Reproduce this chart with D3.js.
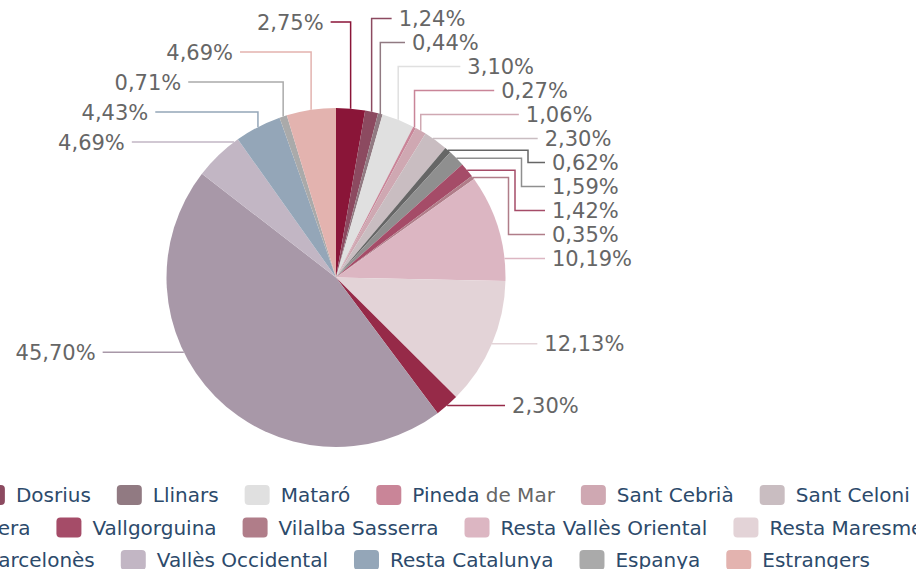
<!DOCTYPE html>
<html>
<head>
<meta charset="utf-8">
<script src="https://cdn.jsdelivr.net/npm/d3@7"></script>
<style>
  html, body { margin: 0; padding: 0; background: #fff; overflow: hidden; }
  svg { display: block; font-family: "DejaVu Sans", Verdana, sans-serif; }
</style>
</head>
<body>
<svg width="916" height="569"></svg>
<script>
// slices, clockwise from 12 o'clock
var categories = ["Arenys de Munt", "Dosrius", "Llinars", "Mataró", "Pineda de Mar",
    "Sant Cebrià", "Sant Celoni", "Sant Iscle", "Tordera", "Vallgorguina", "Vilalba Sasserra",
    "Resta Vallès Oriental", "Resta Maresme", "Osona", "Resta Barcelonès",
    "Vallès Occidental", "Resta Catalunya", "Espanya", "Estrangers"];
var shares = [2.75, 1.24, 0.44, 3.10, 0.27, 1.06, 2.30, 0.62, 1.59, 1.42, 0.35,
    10.19, 12.13, 2.30, 45.70, 4.69, 4.43, 0.71, 4.69];
var colors = ["#8a1538", "#8c4a60", "#917a82", "#e0e0e0", "#c98598", "#cfa8b2", "#c9bdc1",
    "#666666", "#8f8f8f", "#a54c68", "#b07d89", "#dcb6c2", "#e3d3d7", "#962a48",
    "#a898a8", "#c2b6c4", "#94a6b8", "#aaaaaa", "#e3b3af"];

var width = 916,
    height = 569,
    cx = 336, cy = 277.5, r = 169.5;

var svg = d3.select("svg");

var pie = d3.pie().sort(null).value(function (d) { return d; });
var arc = d3.arc().innerRadius(0).outerRadius(r);

var slices = pie(shares).map(function (d, i) {
    d.name = categories[i];
    d.color = colors[i];
    return d;
});

var g = svg.append("g").attr("transform", "translate(" + cx + "," + cy + ")");

g.selectAll("path.slice")
    .data(slices)
    .enter()
    .append("path")
    .attr("class", "slice")
    .attr("d", arc)
    .attr("fill", function (d) { return d.color; });

// ---- outside labels ----
var PI = Math.PI;
var gap = { right: 24, left: 30 };
var ringRho = { right: 182, left: 215 };

function arcPt(a) { return [r * Math.sin(a), -r * Math.cos(a)]; }

var labels = slices.map(function (d) {
    var mid = (d.startAngle + d.endAngle) / 2;
    return { d: d, mid: mid, side: mid < PI ? "right" : "left" };
});

// very top slice goes to the emptier side
var nRight = labels.filter(function (l) { return l.side == "right"; }).length;
labels.forEach(function (l) {
    if (l.side == "right" && l.mid < 0.12 && nRight > slices.length / 2) { l.side = "left"; nRight--; }
});

labels.forEach(function (l) {
    var s = l.d.startAngle, e = l.d.endAngle;
    var lo = l.side == "right" ? Math.max(s, 0) : Math.max(s, PI);
    var hi = l.side == "right" ? Math.min(e, PI) : Math.min(e, 2 * PI);
    l.anchor = hi > lo ? (lo + hi) / 2 : l.mid;
    var c = Math.cos(l.anchor);
    l.natural = c > 0 ? -ringRho[l.side] * c : -r * c;
    l.pt = arcPt(l.anchor);
});

// spread colliding labels around their mean
["left", "right"].forEach(function (side) {
    var G = gap[side];
    var list = labels.filter(function (l) { return l.side == side; })
        .sort(function (a, b) { return a.natural - b.natural; });
    var blocks = list.map(function (l) { return { items: [l], sum: l.natural }; });
    var merged = true;
    function top(b) { return b.sum / b.items.length - (b.items.length - 1) * G / 2; }
    while (merged) {
        merged = false;
        for (var i = 0; i < blocks.length - 1; i++) {
            var a = blocks[i], b = blocks[i + 1];
            if (top(a) + a.items.length * G > top(b)) {
                blocks.splice(i, 2, { items: a.items.concat(b.items), sum: a.sum + b.sum });
                merged = true;
                break;
            }
        }
    }
    blocks.forEach(function (b) {
        b.items.forEach(function (l, k) { l.y = top(b) + k * G; });
    });
});

// connector shape and end points
labels.forEach(function (l) {
    var sgn = l.side == "right" ? 1 : -1;
    var y = l.y;
    var s = l.d.startAngle, e = l.d.endAngle;
    if (Math.abs(y) <= r) {
        var t = Math.acos(-y / r);
        if (l.side == "left") t = 2 * PI - t;
        if (t >= s && t <= e) l.type = "straight";
    }
    if (!l.type) {
        l.type = (Math.sign(y) == Math.sign(l.pt[1]) && Math.abs(y) > Math.abs(l.pt[1])) ? "vertical" : "elbow";
    }
    var R = (y > 0 && l.side == "right") ? 212 : 245;
    var w = Math.sqrt(Math.max(R * R - y * y, 0));
    w = Math.min(w, l.side == "right" ? 209 : 250);
    var startX = l.type == "straight" ? sgn * Math.sqrt(r * r - y * y) : l.pt[0];
    var endX = sgn * w;
    if (sgn > 0) endX = Math.max(endX, startX + 20); else endX = Math.min(endX, startX - 20);
    l.startX = startX;
    l.endX = endX;
});

["left", "right"].forEach(function (side) {
    var sgn = side == "right" ? 1 : -1;
    labels.filter(function (l) { return l.side == side && l.type == "elbow"; })
        .sort(function (a, b) { return a.y - b.y; })
        .forEach(function (l, k) { l.elbowX = l.endX - sgn * (17 + 6.5 * k); });
});

function connector(l) {
    if (l.type == "straight") return [[l.startX, l.y], [l.endX, l.y]];
    if (l.type == "vertical") return [l.pt, [l.pt[0], l.y], [l.endX, l.y]];
    return [l.pt, [l.elbowX, l.pt[1]], [l.elbowX, l.y], [l.endX, l.y]];
}

var fmt = d3.format(".2f");

g.selectAll("path.conn")
    .data(labels)
    .enter()
    .append("path")
    .attr("class", "conn")
    .attr("d", function (l) { return d3.line()(connector(l)); })
    .attr("fill", "none")
    .attr("stroke", function (l) { return l.d.color; })
    .attr("stroke-width", 1.5);

g.selectAll("text.pct")
    .data(labels)
    .enter()
    .append("text")
    .attr("class", "pct")
    .attr("x", function (l) { return l.endX + (l.side == "right" ? 7 : -7); })
    .attr("y", function (l) { return l.y; })
    .attr("dy", "0.36em")
    .attr("text-anchor", function (l) { return l.side == "right" ? "start" : "end"; })
    .attr("font-size", "21px")
    .attr("fill", "#666")
    .text(function (l) { return fmt(l.d.data).replace(".", ",") + "%"; });

// ---- legend (wider than the chart, so its ends are clipped) ----
var legendLeft = -239,
    legendMaxWidth = 1260,
    rowTop = 495,
    rowStep = 32.5,
    symW = 25, symH = 20, symGap = 11, itemGap = 26;

var legend = svg.append("g").attr("class", "legend");
var items = legend.selectAll("g.item")
    .data(slices)
    .enter()
    .append("g")
    .attr("class", "item");

items.append("rect")
    .attr("width", symW)
    .attr("height", symH)
    .attr("rx", 4)
    .attr("y", -symH / 2)
    .attr("fill", function (d) { return d.color; });

var greyTail = { "Pineda de Mar": " de Mar" };

items.append("text")
    .attr("x", symW + symGap)
    .attr("dy", "0.36em")
    .attr("font-size", "20px")
    .attr("fill", "#2c4a6b")
    .each(function (d) {
        var t = d3.select(this);
        var tail = greyTail[d.name];
        if (tail) {
            t.append("tspan").text(d.name.slice(0, d.name.length - tail.length));
            t.append("tspan").attr("fill", "#666").text(tail);
        } else {
            t.text(d.name);
        }
    });

var lx = 0, row = 0;
items.each(function () {
    var w = symW + symGap + this.querySelector("text").getComputedTextLength() + itemGap;
    if (lx > 0 && lx + w > legendMaxWidth) { lx = 0; row++; }
    d3.select(this).attr("transform", "translate(" + (legendLeft + lx) + "," + (rowTop + row * rowStep) + ")");
    lx += w;
});
</script>
</body>
</html>
